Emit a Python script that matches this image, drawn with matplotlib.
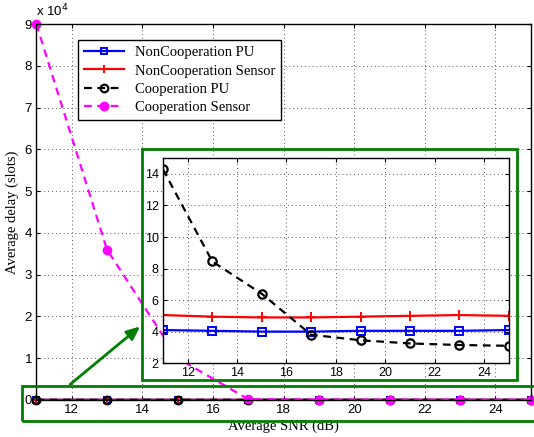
import matplotlib
matplotlib.use("Agg")
import matplotlib.pyplot as plt
from matplotlib.patches import Rectangle
from matplotlib.ticker import FuncFormatter

# average SNR (dB)
snr = [11, 13, 15, 17, 19, 21, 23, 25]

# average delay (slots)
noncoop_pu = [4.1, 4.05, 4.0, 4.0, 4.05, 4.05, 4.05, 4.1]
noncoop_sensor = [5.05, 4.95, 4.9, 4.9, 4.95, 5.0, 5.05, 5.0]
coop_pu = [14.3, 8.45, 6.4, 3.8, 3.45, 3.25, 3.15, 3.1]
coop_sensor = [90000, 36000, 10000, 150, 60, 30, 20, 15]

labels = ["NonCooperation PU", "NonCooperation Sensor", "Cooperation PU", "Cooperation Sensor"]

SANS = "Liberation Sans"
SERIF = "Liberation Serif"
GREEN = "#007f00"
DASH = (3.5, 2.5)


def draw_series(ax, ms, clip=True):
    ax.plot(snr, noncoop_pu, "-s", color="blue", lw=1.6, ms=ms, mfc="none", mew=1.4,
            label=labels[0], clip_on=clip)
    ax.plot(snr, noncoop_sensor, "-+", color="red", lw=1.6, ms=ms + 1, mew=1.4,
            label=labels[1], clip_on=clip)
    ax.plot(snr, coop_pu, "--o", color="black", lw=1.6, ms=ms + 0.5, mfc="none", mew=1.6,
            dashes=DASH, label=labels[2], clip_on=clip)


def style_axes(ax, size):
    ax.tick_params(direction="in", top=True, right=True, labelsize=size, pad=3, length=3)
    for lab in ax.get_xticklabels() + ax.get_yticklabels():
        lab.set_family(SANS)
    ax.grid(True, linestyle=(0, (1, 3)), color="0.35", lw=0.7)
    for sp in ax.spines.values():
        sp.set_linewidth(1.0)


fig = plt.figure(figsize=(5.34, 4.37), dpi=100)
ax = fig.add_axes([0.068, 0.085, 0.926, 0.86])

draw_series(ax, 5, clip=False)
ax.plot(snr, coop_sensor, "--o", color="magenta", lw=1.6, ms=6, mfc="magenta", mec="magenta",
        dashes=DASH, label=labels[3], clip_on=False)

ax.set_xlim(11, 25)
ax.set_ylim(0, 90000)
ax.set_xticks(range(12, 25, 2))
ax.set_yticks(range(0, 90001, 10000))
ax.yaxis.set_major_formatter(FuncFormatter(lambda v, p: "%d" % round(v / 1e4)))
style_axes(ax, 9.5)
ax.text(0.0, 1.012, r"x 10$^{4}$", transform=ax.transAxes, ha="left", va="bottom",
        fontsize=9.5, family=SANS)

ax.set_xlabel("Average SNR (dB)", family=SERIF, fontsize=10.5, labelpad=2.5)
ax.set_ylabel("Average delay (slots)", family=SERIF, fontsize=10.5, labelpad=4)

leg = ax.legend(loc="upper left", bbox_to_anchor=(0.085, 0.957), borderaxespad=0,
                prop={"family": SERIF, "size": 10.5}, handlelength=2.7,
                fancybox=False, edgecolor="black", framealpha=1, labelspacing=0.35)
leg.get_frame().set_linewidth(1.0)
leg.set_zorder(7)

# zoom boxes and arrow
ax.add_patch(Rectangle((14.0, 4800), 10.6, 55200, fill=False, ec=GREEN, lw=2, zorder=6, clip_on=False))
ax.add_patch(Rectangle((10.6, -5000), 14.8, 8300, fill=False, ec=GREEN, lw=2, zorder=6, clip_on=False))
ax.annotate("", xy=(14.0, 18000), xytext=(11.9, 3300),
            arrowprops=dict(arrowstyle="-|>,head_length=0.8,head_width=0.35", color=GREEN, lw=2),
            zorder=6, annotation_clip=False)

# inset
axi = fig.add_axes([0.305, 0.169, 0.648, 0.469])
draw_series(axi, 5.5)
axi.set_xlim(11, 25)
axi.set_ylim(2, 15)
axi.set_xticks(range(12, 25, 2))
axi.set_yticks(range(2, 15, 2))
style_axes(axi, 9)
axi.set_facecolor("white")

fig.savefig("out.png", dpi=100)
